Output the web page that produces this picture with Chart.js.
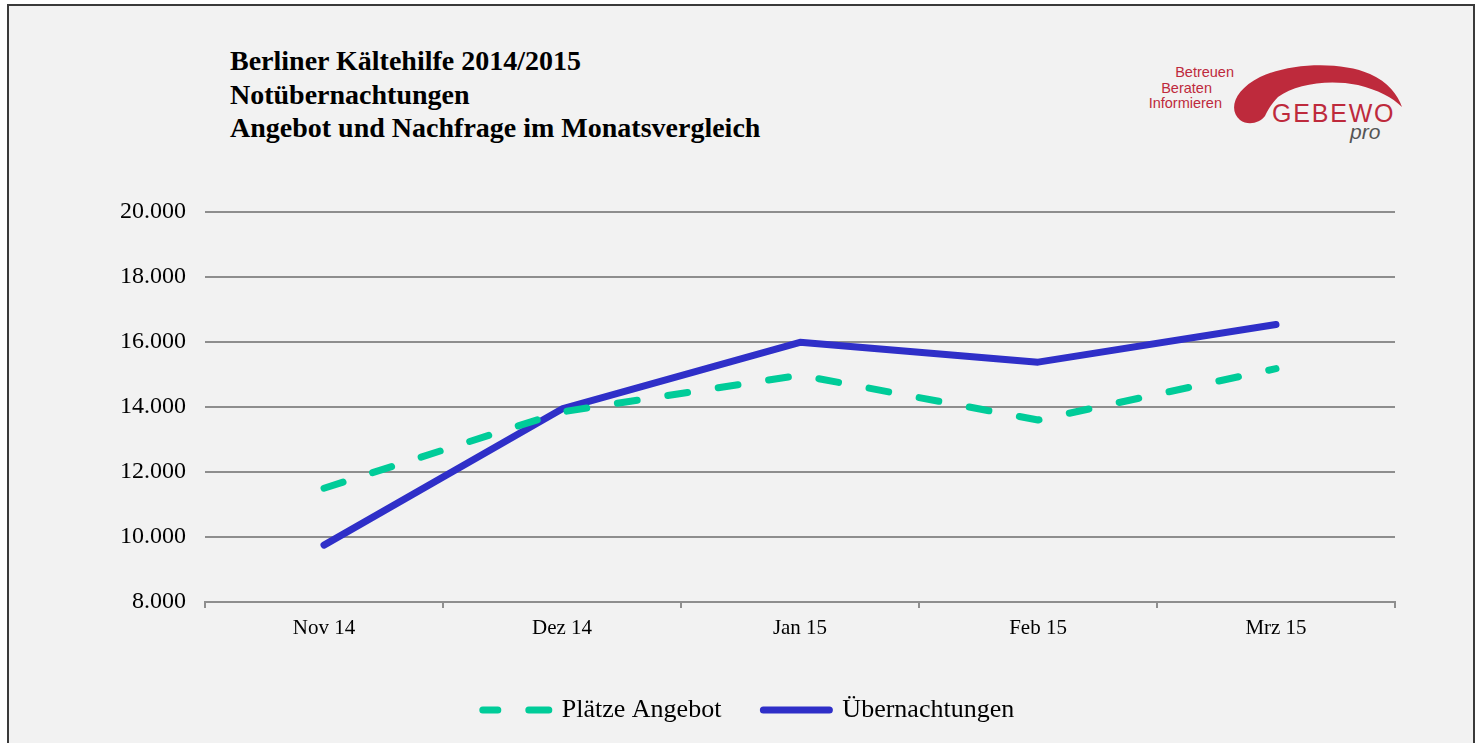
<!DOCTYPE html>
<html>
<head>
<meta charset="utf-8">
<script src="https://cdn.jsdelivr.net/npm/chart.js@4/dist/chart.umd.min.js"></script>
<style>
  html, body { margin: 0; padding: 0; background: #ffffff; width: 1479px; height: 743px; overflow: hidden; }
  #frame { position: absolute; left: 7px; top: 4px; width: 1468px; height: 760px; background: #f2f2f2; border: 2px solid #3a3a3a; box-sizing: border-box; }
  #title { position: absolute; left: 230px; top: 44px; font-family: "Liberation Serif", "Times New Roman", serif; font-weight: bold; font-size: 28px; line-height: 33.5px; color: #000; white-space: nowrap; }
  #logo { position: absolute; left: 1100px; top: 50px; width: 320px; height: 100px; }
  .tag { position: absolute; font-family: "Liberation Sans", Arial, sans-serif; font-size: 14.5px; color: #be2a3c; white-space: nowrap; text-align: right; }
  canvas { position: absolute; left: 0; top: 0; }
</style>
</head>
<body>
<div id="frame"></div>
<div id="title">Berliner Kältehilfe 2014/2015<br>Notübernachtungen<br>Angebot und Nachfrage im Monatsvergleich</div>
<div id="logo">
  <svg width="320" height="100" viewBox="0 0 320 100" style="position:absolute;left:0;top:0">
    <path d="M140,70 C128,60 134,40 160,27 C190,13 240,11 270,24 C288,32 298,45 302,57 C292,47 278,40 258,35 C228,29 196,34 178,47 C172,53 168,60 165,66 C160,73 148,76 140,70 Z" fill="#be2a3c"/>
    <text x="172" y="72" font-family="Liberation Sans, Arial, sans-serif" font-size="25" fill="#be2a3c" letter-spacing="1.8">GEBEWO</text>
    <text x="250" y="89" font-family="Liberation Sans, Arial, sans-serif" font-size="21" font-style="italic" fill="#555555">pro</text>
  </svg>
  <div class="tag" style="right:186px;top:14px">Betreuen</div>
  <div class="tag" style="right:208px;top:30px">Beraten</div>
  <div class="tag" style="right:198px;top:45px">Informieren</div>
</div>
<canvas id="c" width="1479" height="743"></canvas>
<script>
const categories = ["Nov 14", "Dez 14", "Jan 15", "Feb 15", "Mrz 15"];
const plaetzeAngebot = [11500, 13850, 14980, 13600, 15180];
const uebernachtungen = [9750, 13940, 15990, 15380, 16540];
const seriesNames = ["Plätze Angebot", "Übernachtungen"];
const yMin = 8000, yMax = 20000, yStep = 2000;

const fmt = v => String(v).replace(/\B(?=(\d{3})+(?!\d))/g, ".");
const serif = "'Liberation Serif', 'Times New Roman', serif";

new Chart(document.getElementById("c"), {
  type: "line",
  data: {
    labels: categories,
    datasets: [
      {
        label: seriesNames[0],
        data: plaetzeAngebot,
        borderColor: "#00cc99",
        backgroundColor: "#00cc99",
        borderWidth: 7,
        borderDash: [20, 31],
        borderCapStyle: "round",
        borderJoinStyle: "round",
        pointRadius: 0,
        pointStyle: "line",
        tension: 0,
        fill: false
      },
      {
        label: seriesNames[1],
        data: uebernachtungen,
        borderColor: "#2f2fc8",
        backgroundColor: "#2f2fc8",
        borderWidth: 7,
        borderCapStyle: "round",
        borderJoinStyle: "round",
        pointRadius: 0,
        pointStyle: "line",
        tension: 0,
        fill: false
      }
    ]
  },
  options: {
    responsive: false,
    animation: false,
    layout: { padding: { top: 212, right: 0, bottom: 10, left: 18 } },
    plugins: {
      title: { display: false },
      tooltip: { enabled: false },
      legend: {
        display: true,
        position: "bottom",
        labels: {
          usePointStyle: true,
          pointStyleWidth: 66,
          padding: 42,
          color: "#000",
          font: { family: serif, size: 26 },
          generateLabels: chart => {
            const items = Chart.defaults.plugins.legend.labels.generateLabels(chart);
            items.forEach((it, i) => {
              const ds = chart.data.datasets[it.datasetIndex ?? i];
              it.lineDash = ds.borderDash || [];
              it.lineDashOffset = ds.borderDash ? 5 : 0;
              it.lineCap = "round";
              it.lineWidth = 7;
              it.strokeStyle = ds.borderColor;
            });
            return items;
          }
        }
      }
    },
    scales: {
      x: {
        type: "category",
        offset: true,
        afterFit: s => { s.height = 53; },
        grid: { display: true, offset: true, drawOnChartArea: false, drawTicks: true, tickLength: 6, color: "#8e8e8e", lineWidth: 2 },
        border: { display: true, color: "#8e8e8e", width: 2 },
        ticks: { color: "#000", padding: 8, font: { family: serif, size: 21 }, maxRotation: 0 }
      },
      y: {
        min: yMin,
        max: yMax,
        afterFit: s => { s.width = 187; },
        grid: { color: "#8e8e8e", lineWidth: 2, drawTicks: false },
        border: { display: false },
        ticks: { stepSize: yStep, padding: 19, color: "#000", font: { family: serif, size: 24 }, callback: v => fmt(v) }
      },
      yRightSpace: {
        position: "right",
        display: true,
        afterFit: s => { s.width = 84; },
        grid: { display: false, drawTicks: false },
        border: { display: false },
        ticks: { display: false }
      }
    }
  }
});
</script>
</body>
</html>
